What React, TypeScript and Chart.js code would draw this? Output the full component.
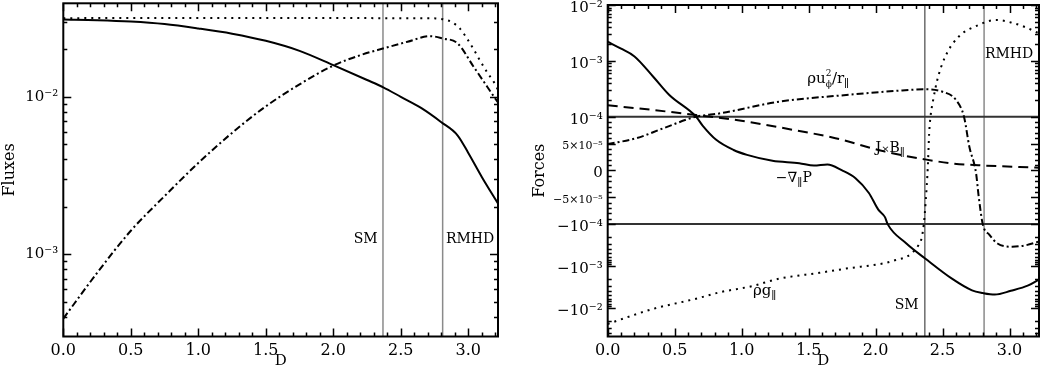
import React, { useEffect, useRef } from 'react';
import { Chart, registerables, LinearScale } from 'chart.js';

Chart.register(...registerables);

const FONT = '"DejaVu Serif", "Liberation Serif", serif';

// ---------- shared x axis (D) ----------
const D_MAX = 3.22;
const D_TICKS = [0, 0.5, 1.0, 1.5, 2.0, 2.5, 3.0];
const D_MINOR_STEP = 0.1;
const SM_D = 2.368;
const RMHD_D = 2.81;

// ---------- left panel: Fluxes (log) ----------
const FLUX_MIN = 3.0e-4;
const FLUX_MAX = 0.0393;
const FLUX_TICKS = [1e-3, 1e-2];
const FLUX_TICK_LABELS = ['10⁻³', '10⁻²'];
const FLUX_MINOR = [4e-4, 5e-4, 6e-4, 7e-4, 8e-4, 9e-4, 2e-3, 3e-3, 4e-3, 5e-3, 6e-3, 7e-3, 8e-3, 9e-3, 2e-2, 3e-2];

const FLUX_SOLID_D = [0, 0.25, 0.5, 0.75, 1.0, 1.25, 1.5, 1.75, 2.0, 2.25, 2.37, 2.5, 2.65, 2.8, 2.92, 3.0, 3.1, 3.22];
const FLUX_SOLID = [0.0310, 0.0307, 0.0301, 0.0290, 0.0272, 0.0252, 0.0227, 0.0196, 0.0159, 0.0128, 0.0115, 0.0100, 0.0085, 0.0069, 0.0057, 0.0044, 0.0031, 0.0021];

const FLUX_DOT_D = [0, 0.5, 1.0, 1.5, 2.0, 2.5, 2.7, 2.76, 2.82, 2.88, 2.94, 2.99, 3.04, 3.09, 3.14, 3.19, 3.22];
const FLUX_DOT = [0.0316, 0.0317, 0.0317, 0.0317, 0.0317, 0.0316, 0.0316, 0.0315, 0.0310, 0.0298, 0.0270, 0.0235, 0.0200, 0.0168, 0.0143, 0.0124, 0.0111];

const FLUX_DASHDOT_D = [0, 0.25, 0.5, 0.75, 1.0, 1.25, 1.5, 1.75, 2.0, 2.2, 2.38, 2.55, 2.72, 2.81, 2.92, 3.04, 3.14, 3.22];
const FLUX_DASHDOT = [3.9e-4, 7.6e-4, 1.41e-3, 2.34e-3, 3.8e-3, 5.9e-3, 8.7e-3, 0.0120, 0.0158, 0.0184, 0.0204, 0.0224, 0.0243, 0.0235, 0.0219, 0.0155, 0.0116, 0.0092];

// ---------- right panel: Forces (log / linear / -log) ----------
const LIN = 1e-4;
const TOP_DECADES = 2;
const BOT_DECADES = 2.68;
const FORCE_MAX = 1e-2;
const FORCE_MIN = -LIN * Math.pow(10, BOT_DECADES);
const FORCE_TICKS = [1e-2, 1e-3, 1e-4, 5e-5, 0, -5e-5, -1e-4, -1e-3, -1e-2];
const FORCE_TICK_LABELS = ['10⁻²', '10⁻³', '10⁻⁴', '5×10⁻⁵', '0', '−5×10⁻⁵', '−10⁻⁴', '−10⁻³', '−10⁻²'];
const FORCE_MINOR = [
  2e-4, 3e-4, 4e-4, 5e-4, 6e-4, 7e-4, 8e-4, 9e-4,
  2e-3, 3e-3, 4e-3, 5e-3, 6e-3, 7e-3, 8e-3, 9e-3,
  9e-5, 8e-5, 7e-5, 6e-5, 4e-5, 3e-5, 2e-5, 1e-5,
  -1e-5, -2e-5, -3e-5, -4e-5, -6e-5, -7e-5, -8e-5, -9e-5,
  -2e-4, -3e-4, -4e-4, -5e-4, -6e-4, -7e-4, -8e-4, -9e-4,
  -2e-3, -3e-3, -4e-3, -5e-3, -6e-3, -7e-3, -8e-3, -9e-3,
  -2e-2, -3e-2, -4e-2,
];

const GRADP_D = [0, 0.1, 0.2, 0.34, 0.46, 0.66, 0.71, 0.81, 0.94, 1.04, 1.23, 1.43, 1.54, 1.64, 1.75, 1.85, 1.95, 2.02, 2.07, 2.09, 2.23, 2.37, 2.57, 2.72, 2.8, 2.89, 3.01, 3.14, 3.22];
const GRADP = [2.2e-3, 1.65e-3, 1.2e-3, 5.2e-4, 2.45e-4, 1.0e-4, 8.3e-5, 5.7e-5, 3.8e-5, 2.9e-5, 1.8e-5, 1.35e-5, 9e-6, 1.1e-5, 0, -1.45e-5, -4.2e-5, -7.3e-5, -8.7e-5, -1.0e-4, -2.9e-4, -6.6e-4, -2.0e-3, -3.8e-3, -4.4e-3, -4.8e-3, -3.9e-3, -2.9e-3, -2.1e-3];

const JXB_D = [0, 0.34, 0.66, 0.96, 1.33, 1.70, 2.07, 2.36, 2.57, 2.82, 3.22];
const JXB = [1.6e-4, 1.32e-4, 1.07e-4, 9.4e-5, 7.8e-5, 6.0e-5, 3.5e-5, 2.1e-5, 1.3e-5, 9e-6, 5e-6];

const CENTRIF_D = [0, 0.215, 0.41, 0.66, 0.84, 1.28, 1.78, 2.15, 2.37, 2.5, 2.6, 2.66, 2.70, 2.75, 2.77, 2.80, 2.85, 2.91, 3.02, 3.12, 3.22];
const CENTRIF = [4.9e-5, 6.0e-5, 7.8e-5, 1.0e-4, 1.15e-4, 1.86e-4, 2.45e-4, 2.9e-4, 3.1e-4, 2.8e-4, 2.0e-4, 1.0e-4, 4.4e-5, -5e-6, -4.9e-5, -1.0e-4, -1.8e-4, -2.9e-4, -3.45e-4, -3.2e-4, -2.6e-4];

const GRAV_D = [0, 0.34, 0.66, 0.84, 1.08, 1.28, 1.58, 1.78, 2.07, 2.15, 2.24, 2.28, 2.32, 2.34, 2.36, 2.375, 2.39, 2.40, 2.41, 2.43, 2.46, 2.52, 2.62, 2.77, 2.90, 3.02, 3.12, 3.22];
const GRAV = [-2.4e-2, -1.05e-2, -6.0e-3, -4.2e-3, -3.0e-3, -2.0e-3, -1.45e-3, -1.15e-3, -8.5e-4, -7.2e-4, -5.8e-4, -4.6e-4, -3.2e-4, -2.4e-4, -1.0e-4, -5.5e-5, 7e-6, 6.9e-5, 1.0e-4, 2.0e-4, 4.5e-4, 1.19e-3, 2.7e-3, 4.4e-3, 5.4e-3, 4.8e-3, 4.0e-3, 3.1e-3];

// ---------- piecewise scale ----------
const F_BOT = 0.339;
const F_MID = 0.324;
const F_TOP = 0.337;

function toDecimal(v: number): number {
  if (v >= LIN) return F_BOT + F_MID + (F_TOP * Math.log10(v / LIN)) / TOP_DECADES;
  if (v <= -LIN) return F_BOT * (1 - Math.log10(-v / LIN) / BOT_DECADES);
  return F_BOT + (F_MID * (v + LIN)) / (2 * LIN);
}
function fromDecimal(d: number): number {
  if (d >= F_BOT + F_MID) return LIN * Math.pow(10, ((d - F_BOT - F_MID) * TOP_DECADES) / F_TOP);
  if (d <= F_BOT) return -LIN * Math.pow(10, (1 - d / F_BOT) * BOT_DECADES);
  return ((d - F_BOT) / F_MID) * 2 * LIN - LIN;
}

class PiecewiseScale extends (LinearScale as any) {
  static id = 'piecewise';
  static defaults = (LinearScale as any).defaults;
  determineDataLimits() {
    (this as any).min = FORCE_MIN;
    (this as any).max = FORCE_MAX;
  }
  buildTicks() {
    return FORCE_TICKS.map((v) => ({ value: v }));
  }
  getPixelForValue(value: number) {
    if (value === null || value === undefined || isNaN(value)) return NaN;
    return (this as any).getPixelForDecimal(toDecimal(value));
  }
  getValueForPixel(pixel: number) {
    return fromDecimal((this as any).getDecimalForPixel(pixel));
  }
}
Chart.register(PiecewiseScale as any);

// ---------- annotations ----------
type Part = { t: string; size: number; dy?: number; keep?: boolean };
type Note = { x: number; y: number; align: 'left' | 'center'; parts: Part[] };

const LEFT_NOTES: Note[] = [
  { x: 2.24, y: 1.17e-3, align: 'center', parts: [{ t: 'SM', size: 14 }] },
  { x: 3.013, y: 1.17e-3, align: 'center', parts: [{ t: 'RMHD', size: 14 }] },
];

const RIGHT_NOTES: Note[] = [
  {
    x: 1.49, y: 4.0e-4, align: 'left',
    parts: [
      { t: 'ρu', size: 15 },
      { t: '2', size: 9, dy: -7, keep: true },
      { t: 'ϕ', size: 9, dy: 4 },
      { t: '/r', size: 15 },
      { t: '∥', size: 11, dy: 4 },
    ],
  },
  {
    x: 2.0, y: 3.5e-5, align: 'left',
    parts: [
      { t: 'J', size: 14 },
      { t: '×', size: 10 },
      { t: 'B', size: 14 },
      { t: '∥', size: 11, dy: 4 },
    ],
  },
  {
    x: 1.255, y: -2.08e-5, align: 'left',
    parts: [
      { t: '−∇', size: 14 },
      { t: '∥', size: 11, dy: 4 },
      { t: 'P', size: 14 },
    ],
  },
  {
    x: 1.084, y: -5.0e-3, align: 'left',
    parts: [
      { t: 'ρg', size: 15 },
      { t: '∥', size: 11, dy: 4 },
    ],
  },
  { x: 2.232, y: -1.045e-2, align: 'center', parts: [{ t: 'SM', size: 14 }] },
  { x: 2.997, y: 1.11e-3, align: 'center', parts: [{ t: 'RMHD', size: 14 }] },
];

function drawRich(ctx: CanvasRenderingContext2D, x: number, y: number, note: Note) {
  let total = 0;
  let keepW = 0;
  for (const p of note.parts) {
    ctx.font = `${p.size}px ${FONT}`;
    const w = ctx.measureText(p.t).width;
    if (p.keep) keepW = Math.max(keepW, w);
    else { total += Math.max(w, keepW); keepW = 0; }
  }
  let cx = note.align === 'center' ? x - total / 2 : x;
  keepW = 0;
  ctx.textAlign = 'left';
  ctx.textBaseline = 'alphabetic';
  for (const p of note.parts) {
    ctx.font = `${p.size}px ${FONT}`;
    const w = ctx.measureText(p.t).width;
    ctx.fillText(p.t, cx, y + (p.dy || 0));
    if (p.keep) keepW = Math.max(keepW, w);
    else { cx += Math.max(w, keepW); keepW = 0; }
  }
}

function makeDecorPlugin(yMajor: number[], yMinor: number[], notes: Note[]) {
  return {
    id: 'decor',
    afterDatasetsDraw(chart: any) {
      const { ctx, chartArea: a, scales } = chart;
      const xs = scales.x;
      const ys = scales.y;
      ctx.save();
      ctx.strokeStyle = '#000';
      ctx.lineWidth = 1.5;
      ctx.beginPath();
      const n = Math.round(D_MAX / D_MINOR_STEP);
      for (let i = 0; i <= n; i++) {
        const v = i * D_MINOR_STEP;
        const major = D_TICKS.some((t) => Math.abs(t - v) < 1e-6);
        const len = major ? 8 : 4;
        const px = Math.round(xs.getPixelForValue(v)) + 0.5;
        ctx.moveTo(px, a.bottom); ctx.lineTo(px, a.bottom - len);
        ctx.moveTo(px, a.top); ctx.lineTo(px, a.top + len);
      }
      const yt = (vals: number[], len: number) => {
        for (const v of vals) {
          const py = Math.round(ys.getPixelForValue(v)) + 0.5;
          if (py < a.top - 0.5 || py > a.bottom + 0.5) continue;
          ctx.moveTo(a.left, py); ctx.lineTo(a.left + len, py);
          ctx.moveTo(a.right, py); ctx.lineTo(a.right - len, py);
        }
      };
      yt(yMajor, 8);
      yt(yMinor, 4);
      ctx.stroke();
      ctx.lineWidth = 2;
      ctx.strokeRect(a.left, a.top, a.right - a.left, a.bottom - a.top);
      ctx.fillStyle = '#000';
      for (const note of notes) {
        drawRich(ctx, xs.getPixelForValue(note.x), ys.getPixelForValue(note.y), note);
      }
      ctx.restore();
    },
  };
}

const pts = (xs: number[], ys: number[]) => xs.map((x, i) => ({ x, y: ys[i] }));

function curve(label: string, xs: number[], ys: number[], dash: number[], width = 2) {
  return {
    label,
    data: pts(xs, ys),
    borderColor: '#000',
    borderWidth: width,
    borderDash: dash,
    borderCapStyle: 'butt',
    pointRadius: 0,
    fill: false,
    cubicInterpolationMode: 'monotone',
  };
}
function straight(label: string, xs: number[], ys: number[], color: string, width: number) {
  return {
    label,
    data: pts(xs, ys),
    borderColor: color,
    borderWidth: width,
    pointRadius: 0,
    fill: false,
    tension: 0,
  };
}

const DOTTED = [2, 5];
const DASHDOT = [7, 3, 2, 3];
const DASHED = [10, 6];

function xAxis(xMax: number) {
  return {
    type: 'linear',
    min: 0,
    max: xMax,
    afterBuildTicks: (s: any) => { s.ticks = D_TICKS.map((v) => ({ value: v })); },
    afterFit: (s: any) => { s.height = 41.5; s.paddingLeft = 0; s.paddingRight = 0; },
    ticks: { autoSkip: false, maxRotation: 0, padding: 5, color: '#000', font: { family: FONT, size: 16 }, callback: (v: any) => Number(v).toFixed(1) },
    grid: { display: false, drawTicks: false },
    border: { display: false },
    title: { display: true, text: 'D', color: '#000', font: { family: FONT, size: 15 }, padding: { top: 0, bottom: 8 } },
  };
}

export default function App() {
  const leftRef = useRef<HTMLCanvasElement>(null);
  const rightRef = useRef<HTMLCanvasElement>(null);

  useEffect(() => {
    const left = new Chart(leftRef.current as HTMLCanvasElement, {
      type: 'line',
      data: {
        datasets: [
          curve('solid', FLUX_SOLID_D, FLUX_SOLID, []),
          curve('dotted', FLUX_DOT_D, FLUX_DOT, DOTTED),
          curve('dashdot', FLUX_DASHDOT_D, FLUX_DASHDOT, DASHDOT),
          straight('SM', [SM_D, SM_D], [FLUX_MIN, FLUX_MAX], '#8a8a8a', 1.5),
          straight('RMHD', [RMHD_D, RMHD_D], [FLUX_MIN, FLUX_MAX], '#8a8a8a', 1.5),
        ] as any,
      },
      options: {
        animation: false,
        responsive: false,
        devicePixelRatio: 1,
        layout: { padding: { left: 0, right: 22, top: 3.3, bottom: 0 } },
        plugins: { legend: { display: false }, tooltip: { enabled: false } },
        scales: {
          x: xAxis(D_MAX) as any,
          y: {
            type: 'logarithmic',
            min: FLUX_MIN,
            max: FLUX_MAX,
            afterBuildTicks: (s: any) => { s.ticks = FLUX_TICKS.map((v) => ({ value: v })); },
            afterFit: (s: any) => { s.width = 63.3; s.paddingTop = 0; s.paddingBottom = 0; },
            ticks: {
              autoSkip: false, padding: 5, color: '#000', font: { family: FONT, size: 15 },
              callback: (v: any) => {
                const i = FLUX_TICKS.findIndex((t) => Math.abs(t - v) / t < 1e-6);
                return i >= 0 ? FLUX_TICK_LABELS[i] : '';
              },
            },
            grid: { display: false, drawTicks: false },
            border: { display: false },
            title: { display: true, text: 'Fluxes', color: '#000', font: { family: FONT, size: 16 }, padding: { top: 0, bottom: 0 } },
          } as any,
        },
      },
      plugins: [makeDecorPlugin(FLUX_TICKS, FLUX_MINOR, LEFT_NOTES)],
    } as any);

    const right = new Chart(rightRef.current as HTMLCanvasElement, {
      type: 'line',
      data: {
        datasets: [
          curve('gradP', GRADP_D, GRADP, []),
          curve('JxB', JXB_D, JXB, DASHED),
          curve('centrifugal', CENTRIF_D, CENTRIF, DASHDOT),
          curve('gravity', GRAV_D, GRAV, DOTTED),
          straight('upper', [0, D_MAX], [LIN, LIN], '#333', 2),
          straight('lower', [0, D_MAX], [-LIN, -LIN], '#333', 2),
          straight('SM', [SM_D, SM_D], [FORCE_MIN, FORCE_MAX], '#222', 1),
          straight('RMHD', [RMHD_D, RMHD_D], [FORCE_MIN, FORCE_MAX], '#8a8a8a', 1.5),
        ] as any,
      },
      options: {
        animation: false,
        responsive: false,
        devicePixelRatio: 1,
        layout: { padding: { left: 10, right: 2, top: 5, bottom: 0 } },
        plugins: { legend: { display: false }, tooltip: { enabled: false } },
        scales: {
          x: xAxis(D_MAX) as any,
          y: {
            type: 'piecewise',
            afterFit: (s: any) => { s.width = 77.7; s.paddingTop = 0; s.paddingBottom = 0; },
            ticks: {
              autoSkip: false, padding: 5, color: '#000', labelOffset: 3,
              font: (ctx: any) => {
                const v = ctx.tick ? ctx.tick.value : 0;
                const small = Math.abs(Math.abs(v) - 5e-5) < 1e-9;
                return { family: FONT, size: small ? 11 : 15 };
              },
              callback: (v: any) => {
                const i = FORCE_TICKS.findIndex((t) => Math.abs(t - v) < 1e-12 || (t !== 0 && Math.abs((t - v) / t) < 1e-6));
                return i >= 0 ? FORCE_TICK_LABELS[i] : '';
              },
            },
            grid: { display: false, drawTicks: false },
            border: { display: false },
            title: { display: true, text: 'Forces', color: '#000', font: { family: FONT, size: 16 }, padding: { top: 0, bottom: 0 } },
          } as any,
        },
      },
      plugins: [makeDecorPlugin(FORCE_TICKS, FORCE_MINOR, RIGHT_NOTES)],
    } as any);

    return () => {
      left.destroy();
      right.destroy();
    };
  }, []);

  return (
    <div style={{ position: 'absolute', left: 0, top: 0, width: 1041, height: 378, background: '#fff' }}>
      <canvas ref={leftRef} width={520} height={378} style={{ position: 'absolute', left: 0, top: 0, width: 520, height: 378 }} />
      <canvas ref={rightRef} width={521} height={378} style={{ position: 'absolute', left: 520, top: 0, width: 521, height: 378 }} />
    </div>
  );
}
